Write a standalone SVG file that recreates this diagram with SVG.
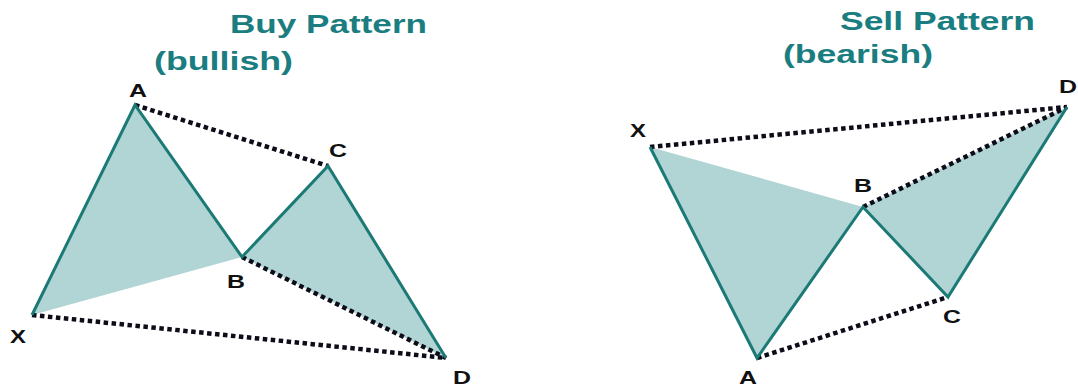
<svg xmlns="http://www.w3.org/2000/svg" width="1078" height="388" viewBox="0 0 1078 388">
<style>
.fill{fill:#b1d4d4;stroke:none}
.leg{fill:none;stroke:#1c7a76;stroke-width:3;stroke-linejoin:miter}
.dot{fill:none;stroke:#0d0d1a;stroke-width:4.5;stroke-dasharray:4.5 3.5}
.title{font-family:"Liberation Sans",Arial,sans-serif;font-weight:bold;font-size:26px;fill:#1a7d7f}
.lbl{font-family:"Liberation Sans",Arial,sans-serif;font-weight:bold;font-size:19px;fill:#111;text-anchor:middle}
</style>
<rect width="1078" height="388" fill="#fff"/>
<g id="buy-pattern">
  <polygon class="fill" points="32,315 135,105 242,257"/>
  <polygon class="fill" points="242,257 328,166 446,358"/>
  <g id="buy-connectors">
    <line class="dot" x1="135" y1="105" x2="328" y2="166"/>
    <line class="dot" x1="32" y1="315" x2="446" y2="358"/>
    <line class="dot" x1="242" y1="257" x2="446" y2="358"/>
    <polyline class="leg" points="32,315 135,105 242,257 328,166 446,358"/>
  </g>
  <text class="title" x="230" y="33" textLength="197" lengthAdjust="spacingAndGlyphs">Buy Pattern</text>
  <text class="title" x="154" y="70" textLength="139" lengthAdjust="spacingAndGlyphs">(bullish)</text>
  <g id="buy-X"><text class="lbl" x="18" y="343" textLength="16" lengthAdjust="spacingAndGlyphs">X</text></g>
  <g id="buy-A"><text class="lbl" x="138" y="97" textLength="18" lengthAdjust="spacingAndGlyphs">A</text></g>
  <g id="buy-B"><text class="lbl" x="236" y="288" textLength="18" lengthAdjust="spacingAndGlyphs">B</text></g>
  <g id="buy-C"><text class="lbl" x="338" y="157" textLength="18" lengthAdjust="spacingAndGlyphs">C</text></g>
  <g id="buy-D"><text class="lbl" x="462" y="384" textLength="18" lengthAdjust="spacingAndGlyphs">D</text></g>
</g>
<g id="sell-pattern">
  <polygon class="fill" points="650,147 757,358 863,207"/>
  <polygon class="fill" points="863,207 948,297 1067,107"/>
  <g id="sell-connectors">
    <line class="dot" x1="650" y1="147" x2="1067" y2="107"/>
    <line class="dot" x1="863" y1="207" x2="1067" y2="107"/>
    <line class="dot" x1="757" y1="358" x2="948" y2="297"/>
    <polyline class="leg" points="650,147 757,358 863,207 948,297 1067,107"/>
  </g>
  <text class="title" x="840" y="30" textLength="195" lengthAdjust="spacingAndGlyphs">Sell Pattern</text>
  <text class="title" x="783" y="63" textLength="150" lengthAdjust="spacingAndGlyphs">(bearish)</text>
  <g id="sell-X"><text class="lbl" x="638" y="137" textLength="16" lengthAdjust="spacingAndGlyphs">X</text></g>
  <g id="sell-A"><text class="lbl" x="748" y="384" textLength="18" lengthAdjust="spacingAndGlyphs">A</text></g>
  <g id="sell-B"><text class="lbl" x="863" y="192" textLength="18" lengthAdjust="spacingAndGlyphs">B</text></g>
  <g id="sell-C"><text class="lbl" x="952" y="323" textLength="18" lengthAdjust="spacingAndGlyphs">C</text></g>
  <g id="sell-D"><text class="lbl" x="1068" y="93" textLength="18" lengthAdjust="spacingAndGlyphs">D</text></g>
</g>
</svg>
